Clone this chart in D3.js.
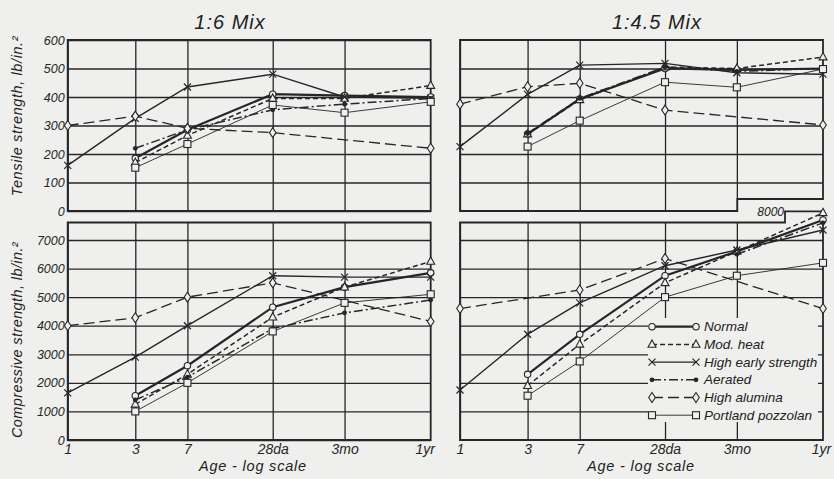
<!DOCTYPE html>
<html>
<head>
<meta charset="utf-8">
<script src="https://cdn.jsdelivr.net/npm/d3@7"></script>
<style>
  body { margin: 0; background: #efefed; }
  svg { display: block; }
  text { font-family: "Liberation Sans", "DejaVu Sans", sans-serif; font-style: italic; fill: #222; }
</style>
</head>
<body>
<div id="chart"></div>
<script>
const ages = [1, 3, 7, 28, 90, 365];
const ageLabels = ["1", "3", "7", "28da", "3mo", "1yr"];
const seriesNames = ["Normal", "Mod. heat", "High early strength", "Aerated", "High alumina", "Portland pozzolan"];

// values by series (same order as seriesNames), one per age, null = no point
const tensile16 = [
  [null, 185, 285, 410, 405, 400],
  [null, 170, 265, 395, 395, 440],
  [160, 325, 435, 480, 400, 395],
  [null, 220, 285, 355, 375, 395],
  [300, 333, 290, 275, null, 220],
  [null, 152, 235, 372, 345, 383]
];
const tensile45 = [
  [null, 270, 393, 500, 495, 500],
  [null, 270, 390, 505, 500, 540],
  [226, 409, 512, 518, 485, 480],
  [null, 272, 395, 505, 490, 500],
  [375, 436, 448, 354, null, 302],
  [null, 226, 317, 452, 434, 498]
];
const compress16 = [
  [null, 1550, 2600, 4650, 5350, 5850],
  [null, 1250, 2300, 4300, 5350, 6250],
  [1650, 2900, 4000, 5750, 5700, 5700],
  [null, 1400, 2200, 3900, 4450, 4900],
  [4000, 4280, 5000, 5500, null, 4150],
  [null, 1000, 2000, 3800, 4800, 5100]
];
const compress45 = [
  [null, 2300, 3700, 5750, 6600, 7700],
  [null, 1900, 3350, 5500, 6600, 7950],
  [1750, 3700, 4800, 6100, 6650, 7350],
  [null, null, null, null, 6500, 7600],
  [4600, null, 5250, 6350, null, 4600],
  [null, 1550, 2750, 5000, 5750, 6200]
];
const tensileTicks = [0, 100, 200, 300, 400, 500, 600];
const compressTicks = [0, 1000, 2000, 3000, 4000, 5000, 6000, 7000];

const ink = "#262626";
const bg = "#efefed";

const styles = [
  { w: 2.2, dash: null, mark: "circle" },
  { w: 1.5, dash: "5,3", mark: "triangle" },
  { w: 1.4, dash: null, mark: "cross" },
  { w: 1.5, dash: "9,3,2,3", mark: "dot" },
  { w: 1.3, dash: "11,5", mark: "diamond" },
  { w: 0.9, dash: null, mark: "square" }
];

const svg = d3.select("#chart").append("svg")
  .attr("width", 834).attr("height", 479);

function drawMark(g, type, cx, cy) {
  const s = g.append("g").attr("transform", "translate(" + cx + "," + cy + ")");
  if (type === "circle") {
    s.append("circle").attr("r", 3.2).attr("fill", bg).attr("stroke", ink).attr("stroke-width", 1.1);
  } else if (type === "triangle") {
    s.append("path").attr("d", "M0,-4.5L4,2.8L-4,2.8Z").attr("fill", bg).attr("stroke", ink).attr("stroke-width", 1.1);
  } else if (type === "cross") {
    s.append("path").attr("d", "M-3.5,-3.5L3.5,3.5M-3.5,3.5L3.5,-3.5").attr("stroke", ink).attr("stroke-width", 1.2);
  } else if (type === "dot") {
    s.append("circle").attr("r", 2.4).attr("fill", ink);
  } else if (type === "diamond") {
    s.append("path").attr("d", "M0,-5L3.3,0L0,5L-3.3,0Z").attr("fill", bg).attr("stroke", ink).attr("stroke-width", 1.1);
  } else if (type === "square") {
    s.append("rect").attr("x", -3.5).attr("y", -3.5).attr("width", 7).attr("height", 7)
      .attr("fill", bg).attr("stroke", ink).attr("stroke-width", 1.1);
  }
}

function panel(opts) {
  const x = d3.scaleLog().domain([1, 365]).range([opts.x0, opts.x0 + 363]);
  const y = d3.scaleLinear().domain(opts.domain).range(opts.range);
  const g = svg.append("g");
  const top = opts.top;
  const bottom = opts.range[0];
  const w = 363;

  // horizontal grid + labels
  const ya = g.append("g")
    .attr("transform", "translate(" + opts.x0 + ",0)")
    .call(d3.axisLeft(y).tickValues(opts.ticks).tickSize(-w).tickPadding(3)
      .tickFormat(opts.yLabels ? d3.format("d") : ""));
  ya.select(".domain").remove();
  ya.selectAll("line").attr("stroke", ink).attr("stroke-width", 1.3);
  ya.selectAll("text").attr("font-size", 12.5).style("fill", ink);

  // vertical grid (the last one is the frame edge)
  const xa = g.append("g")
    .attr("transform", "translate(0," + bottom + ")")
    .call(d3.axisBottom(x).tickValues(ages).tickSize(-(bottom - top)).tickPadding(4)
      .tickFormat((d, i) => opts.xLabels ? ageLabels[i] : ""));
  xa.select(".domain").remove();
  xa.selectAll("line").attr("stroke", ink).attr("stroke-width", 1.3)
    .attr("display", (d, i) => i === ages.length - 1 ? "none" : null);
  xa.selectAll("text").attr("font-size", 14).style("fill", ink)
    .attr("dx", (d, i) => i === ages.length - 1 ? opts.lastDx : 0);

  if (opts.legendBox) {
    g.append("rect").attr("x", 648).attr("y", 318).attr("width", 170).attr("height", 104).attr("fill", bg);
  }

  // frame
  g.append("path").attr("d", opts.frame).attr("fill", "none").attr("stroke", ink).attr("stroke-width", 1.8);

  // series
  opts.data.forEach((vals, si) => {
    const st = styles[si];
    const pts = vals.map((v, i) => ({ a: ages[i], v: v })).filter(d => d.v !== null);
    const line = d3.line().x(d => x(d.a)).y(d => y(d.v));
    g.append("path").datum(pts).attr("d", line)
      .attr("fill", "none").attr("stroke", ink).attr("stroke-width", st.w)
      .attr("stroke-dasharray", st.dash);
    pts.forEach(d => drawMark(g, st.mark, x(d.a), y(d.v)));
  });
  return { x, y };
}

// top-left: tensile 1:6
panel({ x0: 67.7, domain: [0, 600], range: [211, 40], top: 40, ticks: tensileTicks,
  yLabels: true, xLabels: false, data: tensile16,
  frame: "M67.7,40H430.7V211H67.7Z" });
// top-right: tensile 1:4.5 (notched corner)
panel({ x0: 460, domain: [0, 600], range: [211, 40], top: 40, ticks: tensileTicks.slice(1, 6),
  yLabels: false, xLabels: false, data: tensile45,
  frame: "M460,40H823V199H737.3V211H460Z" });
// bottom-left: compressive 1:6
panel({ x0: 67.7, domain: [0, 7000], range: [440, 240], top: 222.5, ticks: compressTicks,
  yLabels: true, xLabels: true, lastDx: -6, data: compress16,
  frame: "M67.7,222.5H430.7V440H67.7Z" });
// bottom-right: compressive 1:4.5 (tab up to 8000)
panel({ x0: 460, domain: [0, 7000], range: [440, 240], top: 222.5, ticks: compressTicks.slice(1),
  yLabels: false, xLabels: true, lastDx: -2, data: compress45, legendBox: true,
  frame: "M460,222.5H785V211.4H823V440H460Z" });

svg.append("text").attr("x", 784).attr("y", 215.5).attr("text-anchor", "end")
  .attr("font-size", 12).text("8000");

// titles
svg.append("text").attr("x", 230).attr("y", 29).attr("text-anchor", "middle").attr("font-size", 20)
  .attr("letter-spacing", 1).text("1:6 Mix");
svg.append("text").attr("x", 657).attr("y", 29).attr("text-anchor", "middle").attr("font-size", 20)
  .attr("letter-spacing", 1).text("1:4.5 Mix");

svg.append("text").attr("transform", "translate(22,116) rotate(-90)").attr("text-anchor", "middle")
  .attr("font-size", 14.5).attr("letter-spacing", 0.6).text("Tensile strength, lb/in.²");
svg.append("text").attr("transform", "translate(22,340) rotate(-90)").attr("text-anchor", "middle")
  .attr("font-size", 14.5).attr("letter-spacing", 0.4).text("Compressive strength, lb/in.²");

svg.append("text").attr("x", 253).attr("y", 471).attr("text-anchor", "middle").attr("font-size", 14.5)
  .attr("letter-spacing", 0.8).text("Age - log scale");
svg.append("text").attr("x", 641).attr("y", 471).attr("text-anchor", "middle").attr("font-size", 14.5)
  .attr("letter-spacing", 0.8).text("Age - log scale");

// legend
const lg = svg.append("g");
seriesNames.forEach((name, i) => {
  const st = styles[i];
  const ly = 326.7 + i * 17.7;
  lg.append("line").attr("x1", 652).attr("x2", 696).attr("y1", ly).attr("y2", ly)
    .attr("stroke", ink).attr("stroke-width", st.w).attr("stroke-dasharray", st.dash);
  drawMark(lg, st.mark, 652, ly);
  drawMark(lg, st.mark, 696, ly);
  lg.append("text").attr("x", 704).attr("y", ly + 4.5).attr("font-size", 13.5).text(name);
});
</script>
</body>
</html>
